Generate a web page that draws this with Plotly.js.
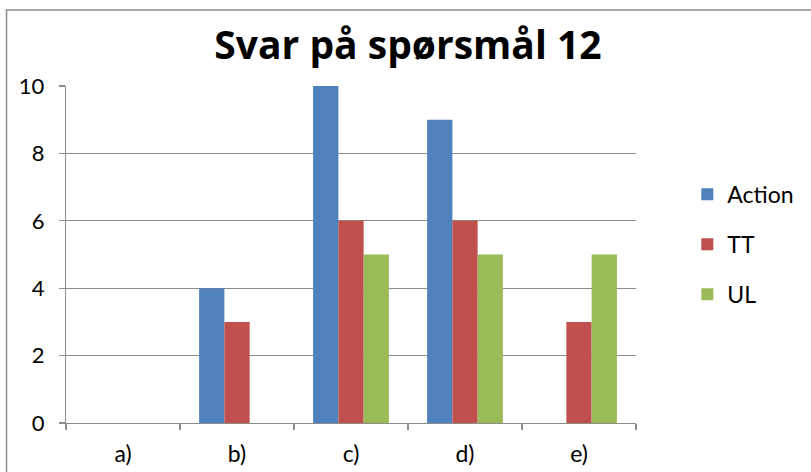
<!DOCTYPE html>
<html><head><meta charset="utf-8">
<script src="https://cdn.plot.ly/plotly-3.0.1.min.js"></script>
<style>html,body{margin:0;padding:0;background:#fff}#c{width:811px;height:472px}</style>
</head><body><div id="c"></div>
<script>
const categories = ["a)", "b)", "c)", "d)", "e)"];
const action = [0, 4, 10, 9, 0];
const tt = [0, 3, 6, 6, 3];
const ul = [0, 0, 5, 5, 5];
const seriesNames = ["Action", "TT", "UL"];
const colors = ["#4f81bd", "#c0504d", "#9bbb59"];
const FONT = "Lato, 'Liberation Sans', sans-serif";
const TFONT = "'Open Sans', Lato, sans-serif";

const data = [action, tt, ul].map((v, i) => ({
  type: "bar", x: categories, y: v, name: seriesNames[i],
  marker: {color: colors[i]}, legendgroup: "g" + i
}));

const layout = {
  width: 811, height: 472,
  margin: {l: 66, r: 170, t: 86, b: 49},
  paper_bgcolor: "#fff", plot_bgcolor: "#fff",
  font: {family: FONT, color: "#000", size: 22},
  title: {text: "<b>Svar på spørsmål 12</b>", font: {family: TFONT, size: 39, color: "#000"},
          x: 0.503, xanchor: "center", y: 0.903, yanchor: "middle"},
  bargap: 0.335, bargroupgap: 0, barmode: "group",
  showlegend: true,
  legend: {x: 1.09, xanchor: "left", y: 0.53, yanchor: "middle",
           font: {family: FONT, size: 23}, traceorder: "grouped", tracegroupgap: 17,
           itemwidth: 30},
  xaxis: {showline: true, linecolor: "#8c8c8c", linewidth: 1.2, ticks: "outside",
          tickson: "boundaries", ticklen: 6, tickcolor: "#8c8c8c", tickwidth: 1.2,
          showgrid: false, tickfont: {size: 23, family: FONT}, ticklabelstandoff: 10,
          fixedrange: true},
  yaxis: {range: [0, 10], dtick: 2, showline: true, linecolor: "#8c8c8c", linewidth: 1.2,
          ticks: "outside", ticklen: 6, tickcolor: "#8c8c8c", tickwidth: 1.2,
          showgrid: true, gridcolor: "#8c8c8c", gridwidth: 1.2, zeroline: false,
          tickfont: {size: 22, family: FONT}, ticklabelstandoff: 10},
  shapes: [{type: "rect", xref: "paper", yref: "paper",
            x0: -60/575, x1: 760/575, y0: -60/337, y1: 413/337,
            line: {color: "#8c8c8c", width: 1.5}, fillcolor: "rgba(0,0,0,0)"}]
};
Plotly.newPlot("c", data, layout, {staticPlot: true});
</script></body></html>
